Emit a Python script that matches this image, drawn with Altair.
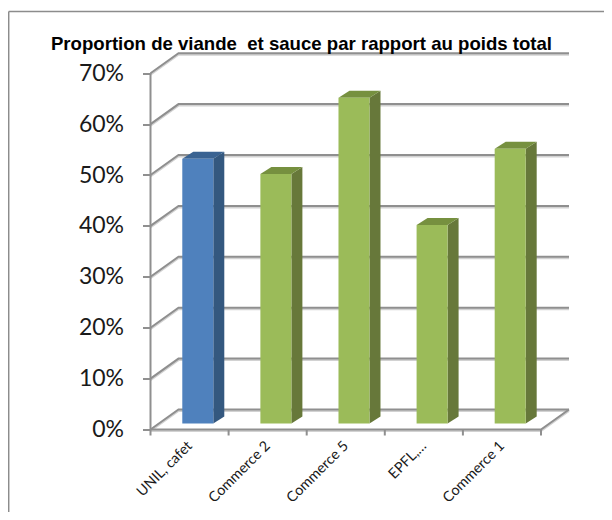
import altair as alt
import pandas as pd

categories = ["UNIL, cafet", "Commerce 2", "Commerce 5", "EPFL,…", "Commerce 1"]
values = [52, 49, 64, 39, 54]
fronts = ["#4f81bd", "#9bbb59", "#9bbb59", "#9bbb59", "#9bbb59"]
sides = ["#34587f", "#67783a", "#67783a", "#67783a", "#67783a"]
tops = ["#3a6392", "#76903f", "#76903f", "#76903f", "#76903f"]
ticks = [0, 10, 20, 30, 40, 50, 60, 70]

PX_X, PX_Y = 78.1, 5.09
WALL_DX, WALL_DY = 28 / PX_X, 20 / PX_Y
BAR_L, BAR_R = 0.407, 0.804
BAR_BASE = 6 / PX_Y
BAR_DX, BAR_DY = 11 / PX_X, 7 / PX_Y
PLOT_W, PLOT_H = 419, 376
N = len(categories)

xs = alt.Scale(domain=[0, PLOT_W / PX_X], nice=False, zero=False)
ys = alt.Scale(domain=[0, PLOT_H / PX_Y], nice=False, zero=False)
X = alt.X("x:Q", scale=xs, title=None,
          axis=alt.Axis(values=[i + 0.5 for i in range(N)], domain=False, grid=False, ticks=False,
                        labelAngle=-45, labelAlign="right", labelBaseline="middle", labelPadding=14,
                        labelFont="Lato", labelFontSize=14.4, labelColor="#1a1a1a", labelOverlap=False,
                        labelExpr="['UNIL, cafet','Commerce 2','Commerce 5','EPFL,…','Commerce 1'][floor(datum.value)]"))
Y = alt.Y("y:Q", scale=ys, title=None, stack=None,
          axis=alt.Axis(values=ticks, domain=False, grid=False, tickColor="#8f8f8f", tickWidth=2, tickSize=8,
                        labelPadding=19, labelFont="Lato", labelFontSize=23, labelColor="#1a1a1a",
                        labelExpr="datum.value + '%'"))

grid_rows = []
for t in ticks:
    for k, (gx, gy) in enumerate([(0, t), (WALL_DX, t + WALL_DY), (N + WALL_DX, t + WALL_DY)]):
        grid_rows.append({"g": t, "k": k, "x": gx, "y": gy})
for k, (gx, gy) in enumerate([(N + WALL_DX, WALL_DY), (N, 0), (0, 0)]):
    grid_rows.append({"g": -1, "k": k, "x": gx, "y": gy})
grid_df = pd.DataFrame(grid_rows)

axis_df = pd.DataFrame({"x": [0, 0], "y": [0, ticks[-1]], "k": [0, 1], "g": [0, 0]})
tick_rows = []
for i in range(N + 1):
    tick_rows += [{"g": i, "k": 0, "x": i, "y": 0}, {"g": i, "k": 1, "x": i, "y": -6 / PX_Y}]
xtick_df = pd.DataFrame(tick_rows)

front_rows, side_rows, top_rows = [], [], []
for i, (c, v) in enumerate(zip(categories, values)):
    l, r = i + BAR_L, i + BAR_R
    b, t = BAR_BASE, BAR_BASE + v
    front_rows.append({"cat": c, "x": l, "x2": r, "y": b, "y2": t, "c": fronts[i]})
    side_rows += [{"cat": c, "x": r, "y": b, "y2": t, "c": sides[i]},
                  {"cat": c, "x": r + BAR_DX, "y": b + BAR_DY, "y2": t + BAR_DY, "c": sides[i]}]
    top_rows += [{"cat": c, "x": l, "y": t, "y2": t, "c": tops[i]},
                 {"cat": c, "x": l + BAR_DX, "y": t, "y2": t + BAR_DY, "c": tops[i]},
                 {"cat": c, "x": r, "y": t, "y2": t + BAR_DY, "c": tops[i]},
                 {"cat": c, "x": r + BAR_DX, "y": t + BAR_DY, "y2": t + BAR_DY, "c": tops[i]}]

enc_line = dict(x=X, y=Y, detail="g:N", order="k:Q")
shadow = alt.Chart(grid_df).mark_line(color="#d2d2d2", strokeWidth=2, yOffset=1.5).encode(**enc_line)
grid = alt.Chart(grid_df).mark_line(color="#8f8f8f", strokeWidth=2).encode(**enc_line)
yline = alt.Chart(axis_df).mark_line(color="#8f8f8f", strokeWidth=2).encode(**enc_line)
xtick = alt.Chart(xtick_df).mark_line(color="#8f8f8f", strokeWidth=2).encode(**enc_line)

C = alt.Color("c:N", scale=None)
front = alt.Chart(pd.DataFrame(front_rows)).mark_rect().encode(x=X, x2="x2:Q", y=Y, y2="y2:Q", color=C)
side = alt.Chart(pd.DataFrame(side_rows)).mark_area().encode(x=X, y=Y, y2="y2:Q", color=C, detail="cat:N")
top = alt.Chart(pd.DataFrame(top_rows)).mark_area().encode(x=X, y=Y, y2="y2:Q", color=C, detail="cat:N")

frame_l = alt.Chart(pd.DataFrame({"a": [0]})).mark_rule(color="#8c8c8c", strokeWidth=1.5).encode(
    x=alt.value(-141.8), y=alt.value(-42), y2=alt.value(PLOT_H + 82.5))
frame_t = alt.Chart(pd.DataFrame({"a": [0]})).mark_rule(color="#8c8c8c", strokeWidth=1.5).encode(
    x=alt.value(-141.8), x2=alt.value(PLOT_W + 34.5), y=alt.value(-42))

chart = alt.layer(frame_l, frame_t, shadow, grid, yline, xtick, side, top, front).properties(
    width=PLOT_W, height=PLOT_H,
    padding={"left": 142.5, "top": 45.5, "right": 34.5, "bottom": 82.5},
    autosize=alt.AutoSizeParams(type="none"),
    title=alt.TitleParams("Proportion de viande\u00a0 et sauce par rapport au poids total",
                          anchor="start", dx=43, offset=-43, font="Liberation Sans", fontWeight="bold",
                          fontSize=18.6, color="#000000"),
    background="white",
).configure_view(stroke=None)

chart.save("out.html", embed_options={"renderer": "svg", "actions": False})
